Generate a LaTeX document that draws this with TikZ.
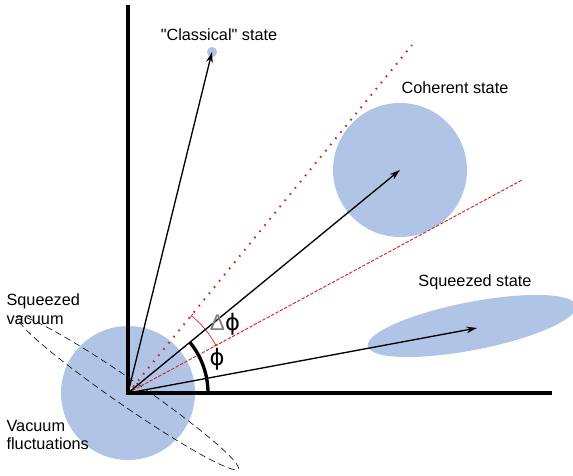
\documentclass[tikz,border=0pt]{standalone}
\usepackage{fontspec}
\setmainfont{Liberation Sans}
\newfontfamily\greekfont{DejaVu Sans}
\newfontfamily\plainfont{Liberation Sans}
\usetikzlibrary{arrows.meta, positioning, calc}
\definecolor{Qblue}{RGB}{176,197,230}
\definecolor{Qred}{RGB}{215,35,30}

\begin{document}
\begin{tikzpicture}[
  x=0.75pt, y=0.75pt,
  font=\fontsize{12.2}{14}\selectfont,
  state/.style={fill=Qblue},
  axis/.style={line width=2.5pt},
  vec/.style={-{Stealth[length=8pt, width=5pt]}, line width=1pt},
  quad/.style={Qred, line width=0.7pt},
  lbl/.style={inner sep=1pt, align=left}
]
\useasboundingbox (0,0) rectangle (573,475);

%% ---- origin and state centres ----
\coordinate (O)    at (128, 82);
\coordinate (cls)  at (212,423);
\coordinate (coh)  at (400,305);
\coordinate (sqz)  at (472,149);

%% ---- filled states ----
\fill[state] (O)   circle (67);
\fill[state] (coh) circle (67);
\fill[state] (cls) circle (5);
\fill[state, rotate around={11:(sqz)}] (sqz) ellipse (106 and 24);

%% ---- squeezed vacuum outline ----
\draw[dash pattern=on 5pt off 3pt, line width=0.45pt, rotate around={-34.6:(O)}]
  (O) ellipse (134 and 13);

%% ---- axes ----
\coordinate (ytop) at (128,470);
\coordinate (xend) at (552, 82);
\draw[axis] (ytop) |- (xend);

%% ---- phase window ----
\coordinate (rup) at (412,430);
\coordinate (rlo) at (522,295);
\draw[quad, line width=1.5pt, dash pattern=on 1.2pt off 4.8pt] (O) -- (rup);
\draw[quad, dash pattern=on 2.5pt off 1.2pt] (O) -- (rlo);
\draw[Qred, line width=0.5pt, {Bar[width=4pt]}-{Bar[width=4pt]}]
  ($(O)+(28.4:100)$) arc[start angle=28.4, end angle=50.8, radius=100];

%% ---- amplitude vectors ----
\draw[vec] (O) -- (cls);
\draw[vec] (O) -- (coh);
\draw[vec] (O) -- ($(sqz)+(5,-2)$);

%% ---- phase angle ----
\draw[axis] ($(O)+(80,0)$) arc[start angle=0, end angle=39.4, radius=80];

%% ---- labels ----
\node (lcls) at (219,440) {{\plainfont"}Classical{\plainfont"} state};
\node (lcoh) at (455,387) {Coherent state};
\node (lsqz) at (475,193) {Squeezed state};
\node[lbl, anchor=west] (lsqv) at (5,166) {Squeezed\\vacuum};
\node[lbl, anchor=west] (lvac) at (5,40)  {Vacuum\\fluctuations};
\node[font=\greekfont\fontsize{17}{17}\selectfont] (lphi) at (217,116) {ϕ};
\node[font=\fontsize{17}{17}\selectfont] (ldphi) at (225,151)
  {{\color{gray}Δ}{\greekfont ϕ}};
\end{tikzpicture}
\end{document}
